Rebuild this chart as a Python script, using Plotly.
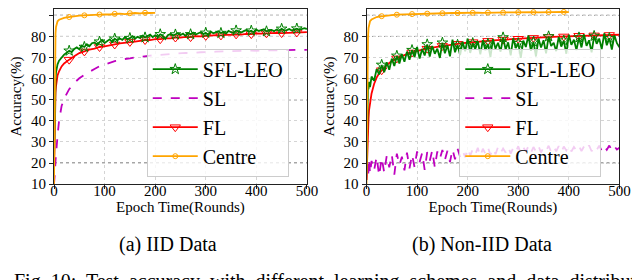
import plotly.graph_objects as go

# ---------------- data ----------------
EARLY = [0, 1, 2, 3, 4, 5, 7, 10, 15, 20, 25]
EP_C = EARLY + list(range(30, 501, 10))      # coarse grid
EP_F = EARLY + list(range(30, 501, 5))       # fine grid
EP_CENTRE_IID = EARLY + list(range(30, 201, 10))
EP_CENTRE_NON = EARLY + list(range(30, 401, 10))

# (a) IID
iid_centre = [10.0, 55.0, 74.0, 81.5, 84.5, 86.0, 87.2, 87.9, 88.4, 88.8, 89.0,
              89.2, 89.5, 89.9, 90.0, 90.2, 90.1, 90.4, 90.5, 90.4, 90.7, 90.8,
              90.6, 91.0, 91.1, 90.9, 91.2, 91.1, 91.2]
iid_sfl = [20.0, 45.0, 55.5, 60.0, 63.0, 65.0, 66.8, 68.5, 70.2, 71.4, 72.3,
           73.2, 72.6, 74.1, 74.8, 73.9, 75.6, 75.0, 76.3, 75.4, 76.8,
           77.1, 76.2, 77.5, 78.3, 76.9, 77.8, 78.6, 77.4, 78.9, 78.1,
           79.0, 78.4, 79.6, 78.7, 79.2, 80.1, 78.9, 79.8, 79.3, 80.4,
           79.5, 80.2, 80.9, 79.7, 80.5, 79.9, 81.0, 80.3, 78.8, 80.6,
           81.1, 80.4, 80.9, 81.5, 80.7, 81.3, 80.2, 81.6, 81.0, 81.8,
           80.9, 81.4, 82.0, 81.1, 81.7, 80.6, 82.2, 81.5, 81.9, 82.4,
           81.6, 82.1, 81.3, 82.6, 82.0, 81.7, 82.8, 82.2, 81.9, 82.5,
           83.0, 82.3, 82.7, 81.8, 83.2, 82.6, 82.9, 83.4, 82.4, 82.8,
           83.1, 82.5, 83.3, 82.7, 83.6, 82.9, 83.0, 83.5, 82.8, 83.2,
           83.7, 83.1, 83.4, 83.9, 83.5]
iid_fl = [15.0, 38.0, 48.0, 53.5, 56.5, 59.0, 61.5, 63.5, 65.8, 67.2, 68.3,
          69.0, 70.6, 72.1, 72.9, 73.8, 74.2, 75.0, 75.3, 75.9, 76.2,
          76.7, 76.9, 77.4, 77.5, 77.9, 78.3, 78.3, 78.7, 78.7, 79.1,
          79.1, 79.5, 79.4, 79.8, 79.7, 80.1, 80.0, 80.3, 80.3, 80.6,
          80.5, 80.8, 80.7, 81.0, 80.9, 81.2, 81.1, 81.4, 81.3, 81.5,
          81.4, 81.7, 81.6, 81.7, 81.8, 81.9, 81.8, 82.0]
iid_sl = [10.0, 12.0, 16.0, 21.0, 24.5, 27.5, 33.0, 40.0, 47.0, 50.5, 53.0,
          55.0, 58.0, 60.2, 61.8, 63.4, 64.6, 65.9, 66.8, 67.6, 68.3,
          68.6, 69.3, 69.6, 70.1, 70.2, 70.7, 70.9, 71.1, 71.3, 71.6,
          71.5, 71.9, 72.0, 72.2, 72.1, 72.4, 72.5, 72.6, 72.5, 72.8,
          72.9, 72.8, 73.0, 73.1, 73.0, 73.2, 73.3, 73.2, 73.4, 73.3,
          73.5, 73.4, 73.5, 73.6, 73.5, 73.6, 73.7, 73.6]

# (b) Non-IID
non_centre = [10.0, 52.0, 72.0, 80.0, 84.0, 86.0, 87.2, 88.0, 88.8, 89.2, 89.4,
              89.6, 89.9, 90.1, 90.3, 90.4, 90.5, 90.6, 90.7, 90.7, 90.8,
              90.9, 90.9, 91.0, 91.0, 91.1, 91.1, 91.2, 91.1, 91.2, 91.3,
              91.2, 91.3, 91.3, 91.4, 91.3, 91.4, 91.4, 91.5, 91.4, 91.5,
              91.5, 91.4, 91.5, 91.6, 91.5, 91.5, 91.6, 91.5]
non_sfl = [15.0, 40.0, 52.0, 57.0, 55.0, 58.5, 56.0, 61.0, 59.0, 64.5, 62.0,
           66.5, 63.0, 67.8, 64.2, 69.5, 66.0, 70.8, 67.2, 71.5, 68.0,
           72.8, 69.0, 73.5, 70.2, 75.0, 69.5, 74.0, 71.0, 76.2, 70.5,
           75.5, 71.8, 74.2, 69.8, 77.0, 72.0, 75.8, 70.6, 78.5, 72.5,
           76.0, 71.2, 77.5, 73.0, 79.0, 72.2, 76.8, 74.0, 77.8, 71.5,
           78.2, 73.5, 76.5, 70.2, 78.8, 74.2, 77.0, 72.8, 79.5, 73.8,
           77.2, 71.0, 79.2, 74.5, 76.8, 69.8, 78.0, 75.0, 80.5, 73.2,
           77.5, 70.5, 79.0, 74.8, 78.2, 72.0, 80.0, 75.5, 77.0, 73.0,
           79.8, 75.2, 78.0, 71.8, 80.8, 76.0, 78.5, 73.5, 79.5, 74.8,
           81.0, 75.5, 78.2, 72.5, 80.2, 76.5, 79.0, 74.0, 81.5, 75.8,
           79.2, 73.8, 80.5, 76.8, 74.8]
non_fl = [12.0, 22.0, 30.0, 36.0, 41.0, 45.0, 49.0, 53.0, 57.5, 60.5, 62.5,
          64.0, 66.5, 68.3, 69.6, 70.7, 71.6, 72.4, 73.1, 73.7, 74.2,
          74.7, 75.1, 75.5, 75.8, 76.2, 76.5, 76.8, 77.0, 77.3, 77.5,
          77.7, 77.9, 78.1, 78.3, 78.5, 78.6, 78.8, 78.9, 79.1, 79.2,
          79.3, 79.5, 79.6, 79.7, 79.8, 79.9, 80.0, 80.1, 80.2, 80.3,
          80.3, 80.4, 80.5, 80.6, 80.6, 80.7, 80.8, 80.8]
non_sl = [12.0, 14.0, 20.0, 13.0, 17.0, 22.0, 15.0, 21.0, 16.5, 23.0, 14.0,
          22.5, 15.5, 23.5, 18.0, 24.0, 14.5, 24.5, 19.0, 23.0, 16.5,
          25.0, 17.5, 24.0, 18.0, 25.5, 20.5, 24.8, 16.8, 25.2, 21.0,
          26.0, 18.0, 25.5, 22.0, 26.2, 21.5, 25.8, 20.5, 26.5, 21.8,
          26.8, 23.0, 26.0, 22.8, 27.0, 23.5, 26.5, 24.0, 27.2, 23.2,
          26.8, 24.5, 27.5, 23.8, 27.0, 24.2, 27.6, 24.8, 26.9, 25.0,
          27.8, 24.5, 27.2, 25.2, 28.0, 24.6, 27.4, 25.5, 27.9, 24.9,
          27.6, 25.4, 28.1, 25.0, 27.5, 25.8, 28.2, 25.3, 27.7, 25.6,
          28.0, 25.2, 27.8, 26.0, 28.3, 25.5, 27.6, 25.9, 28.1, 25.7,
          27.9, 26.1, 28.4, 25.6, 27.8, 26.2, 28.2, 25.8, 28.0, 26.3,
          28.3, 26.0, 27.9, 26.4, 27.2]

names = ["SFL-LEO", "SL", "FL", "Centre"]
x_ticks = [0, 100, 200, 300, 400, 500]
y_ticks = [10, 20, 30, 40, 50, 60, 70, 80, 90]
ref_lines = [20, 50, 80, 90]

# ---------------- styles ----------------
SERIF = "Liberation Serif"
styles = {
    "SFL-LEO": dict(color="#008000", dash="solid", symbol="star-open", msize=8),
    "SL": dict(color="#bf00bf", dash="dash", symbol=None, msize=0),
    "FL": dict(color="#ff0000", dash="solid", symbol="triangle-down-open", msize=9),
    "Centre": dict(color="#ffa500", dash="solid", symbol="circle-open", msize=5),
}

fig = go.Figure()

panels = [
    ("x", "y", "legend", {"SFL-LEO": (EP_F, iid_sfl), "SL": (EP_C, iid_sl),
                          "FL": (EP_C, iid_fl), "Centre": (EP_CENTRE_IID, iid_centre)}),
    ("x2", "y2", "legend2", {"SFL-LEO": (EP_F, non_sfl), "SL": (EP_F, non_sl),
                             "FL": (EP_C, non_fl), "Centre": (EP_CENTRE_NON, non_centre)}),
]

for xa, ya, lg, series in panels:
    for nm in ["SL", "FL", "SFL-LEO", "Centre"]:
        ex, vals = series[nm]
        st = styles[nm]
        fig.add_trace(go.Scatter(x=ex, y=vals, mode="lines", xaxis=xa, yaxis=ya,
                                 line=dict(color=st["color"], width=1.8, dash=st["dash"]),
                                 showlegend=False, hoverinfo="skip"))
        if st["symbol"]:
            mx = [e for e in ex if e > 0 and e % 30 == 0]
            my = [v for e, v in zip(ex, vals) if e > 0 and e % 30 == 0]
            fig.add_trace(go.Scatter(x=mx, y=my, mode="markers", xaxis=xa, yaxis=ya,
                                     marker=dict(symbol=st["symbol"], size=st["msize"],
                                                 color=st["color"], line=dict(width=1, color=st["color"])),
                                     showlegend=False, hoverinfo="skip"))
    for nm in names:
        st = styles[nm]
        fig.add_trace(go.Scatter(
            x=[None], y=[None], xaxis=xa, yaxis=ya, name=nm, legend=lg,
            mode="lines+markers" if st["symbol"] else "lines",
            line=dict(color=st["color"], width=1.8, dash=st["dash"]),
            marker=dict(symbol=st["symbol"] or "circle", size=st["msize"] or 1,
                        color=st["color"], line=dict(width=1, color=st["color"]))))

tickfont = dict(family=SERIF, size=15, color="black")
titlefont = dict(family=SERIF, size=15, color="black")
axis_common = dict(showline=True, linecolor="#222", linewidth=1, mirror=True,
                   ticks="outside", ticklen=4, tickcolor="#222", tickfont=tickfont,
                   showgrid=True, gridcolor="#d4d4d4", griddash="dot", gridwidth=1,
                   zeroline=False)

legend_common = dict(yanchor="top", xanchor="left", y=1 - 41 / 280,
                     bgcolor="rgba(255,255,255,0.8)", bordercolor="#cccccc", borderwidth=1,
                     font=dict(family=SERIF, size=20, color="black"), itemwidth=45,
                     tracegroupgap=0)

fig.update_layout(
    width=640, height=280, margin=dict(l=0, r=0, t=0, b=0),
    paper_bgcolor="white", plot_bgcolor="white",
    font=dict(family=SERIF, color="black"),
    xaxis=dict(domain=[0.0672, 0.4719], anchor="y", range=[0, 500], tickvals=x_ticks,
               ticklabelstandoff=-11,
               title=dict(text="Epoch Time(Rounds)", font=titlefont, standoff=0), **axis_common),
    yaxis=dict(domain=[0.3536, 1.0], anchor="x", range=[10, 93], tickvals=y_ticks,
               title=dict(text="Accuracy(%)", font=titlefont, standoff=5), **axis_common),
    xaxis2=dict(domain=[0.5672, 0.9719], anchor="y2", range=[0, 500], tickvals=x_ticks,
                ticklabelstandoff=-11,
                title=dict(text="Epoch Time(Rounds)", font=titlefont, standoff=0), **axis_common),
    yaxis2=dict(domain=[0.3536, 1.0], anchor="x2", range=[10, 93], tickvals=y_ticks,
                title=dict(text="Accuracy(%)", font=titlefont, standoff=5), **axis_common),
    legend=dict(x=138 / 640, **legend_common),
    legend2=dict(x=458 / 640, **legend_common),
)

for xa, ya in [("x", "y"), ("x2", "y2")]:
    for v in ref_lines:
        fig.add_shape(type="line", xref=xa + " domain", yref=ya, x0=0, x1=1, y0=v, y1=v,
                      line=dict(color="#333", width=1, dash="dot"), layer="below")

capfont = dict(family=SERIF, size=20, color="black")
fig.add_annotation(text="(a) IID Data", xref="paper", yref="paper", x=160 / 640, y=1 - 243 / 280,
                   showarrow=False, font=capfont, xanchor="center", yanchor="middle")
fig.add_annotation(text="(b) Non-IID Data", xref="paper", yref="paper", x=481 / 640, y=1 - 243 / 280,
                   showarrow=False, font=capfont, xanchor="center", yanchor="middle")
fig.add_annotation(text="Fig. 10:  Test  accuracy  with  different  learning  schemes  and  data  distributions.",
                   xref="paper", yref="paper", x=0, y=1 - 268 / 280,
                   showarrow=False, font=capfont, xanchor="left", yanchor="top")

fig.write_html("out.html")
